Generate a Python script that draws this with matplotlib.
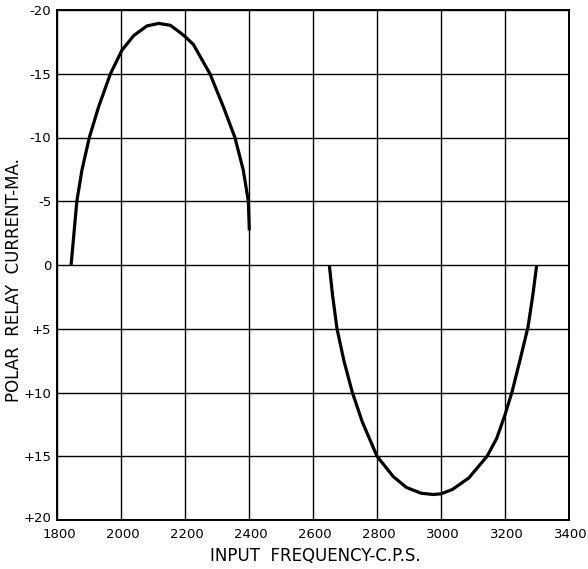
import matplotlib
matplotlib.use("Agg")
import matplotlib.pyplot as plt
import matplotlib.transforms as mtransforms

# Polar relay current vs. input frequency (mark side, space side)
FREQ_LOW = [1844, 1852, 1862, 1878, 1901, 1930, 1967, 2003, 2040, 2081,
            2118, 2154, 2184, 2201, 2226, 2278, 2320, 2356, 2382, 2398, 2401]
CURR_LOW = [0.0, -2.2, -5.0, -7.45, -10.0, -12.4, -15.0, -16.85, -18.0, -18.75,
            -18.95, -18.8, -18.25, -17.9, -17.3, -15.0, -12.4, -10.0, -7.45, -5.0, -2.7]

FREQ_HIGH = [2651, 2661, 2675, 2697, 2723, 2754, 2800, 2851, 2892, 2938,
             2975, 3000, 3036, 3087, 3144, 3174, 3200, 3222, 3246, 3272,
             3287, 3299]
CURR_HIGH = [0.0, 2.35, 5.0, 7.55, 10.0, 12.3, 15.0, 16.6, 17.45, 17.9,
             18.0, 17.95, 17.6, 16.7, 15.0, 13.6, 11.75, 9.95, 7.55, 4.85,
             2.35, 0.0]

X_TICKS = [1800, 2000, 2200, 2400, 2600, 2800, 3000, 3200, 3400]
Y_TICKS = [-20, -15, -10, -5, 0, 5, 10, 15, 20]
Y_TICK_LABELS = ["-20", "-15", "-10", "-5", "0", "+5", "+10", "+15", "+20"]

fig = plt.figure(figsize=(5.88, 5.69), dpi=100, facecolor="white")
ax = fig.add_axes([57 / 588, 49 / 569, 512 / 588, 510 / 569])

for xs, ys in [(FREQ_LOW, CURR_LOW), (FREQ_HIGH, CURR_HIGH)]:
    ax.plot(xs, ys, color="black", lw=2.3, solid_capstyle="butt",
            solid_joinstyle="round")

ax.set_xlim(1800, 3400)
ax.set_ylim(20, -20)
ax.set_xticks(X_TICKS)
ax.set_yticks(Y_TICKS)
ax.set_yticklabels(Y_TICK_LABELS)
ax.tick_params(length=0, labelsize=9.5, pad=4)
ax.tick_params(axis="x", pad=6)
ax.grid(True, color="black", lw=1.0)
for s in ax.spines.values():
    s.set_linewidth(1.4)

# nudge the frequency labels a little to the right of their grid lines
shift = mtransforms.ScaledTranslation(2 / 100, 0, fig.dpi_scale_trans)
for lbl in ax.get_xticklabels():
    lbl.set_transform(lbl.get_transform() + shift)
# bottom "+20" sits just above the axis line
ylbls = ax.get_yticklabels()
ylbls[-1].set_transform(ylbls[-1].get_transform()
                        + mtransforms.ScaledTranslation(0, 3 / 100, fig.dpi_scale_trans))

ax.set_xlabel("INPUT  FREQUENCY-C.P.S.", fontsize=12)
ax.set_ylabel("POLAR  RELAY  CURRENT-MA.", fontsize=12)
ax.xaxis.set_label_coords(0.504, -0.071)
ax.yaxis.set_label_coords(-0.084, 0.47)
ax.xaxis.label.set_va("center")
ax.yaxis.label.set_va("center")

fig.savefig("out.png", dpi=100, facecolor="white")
